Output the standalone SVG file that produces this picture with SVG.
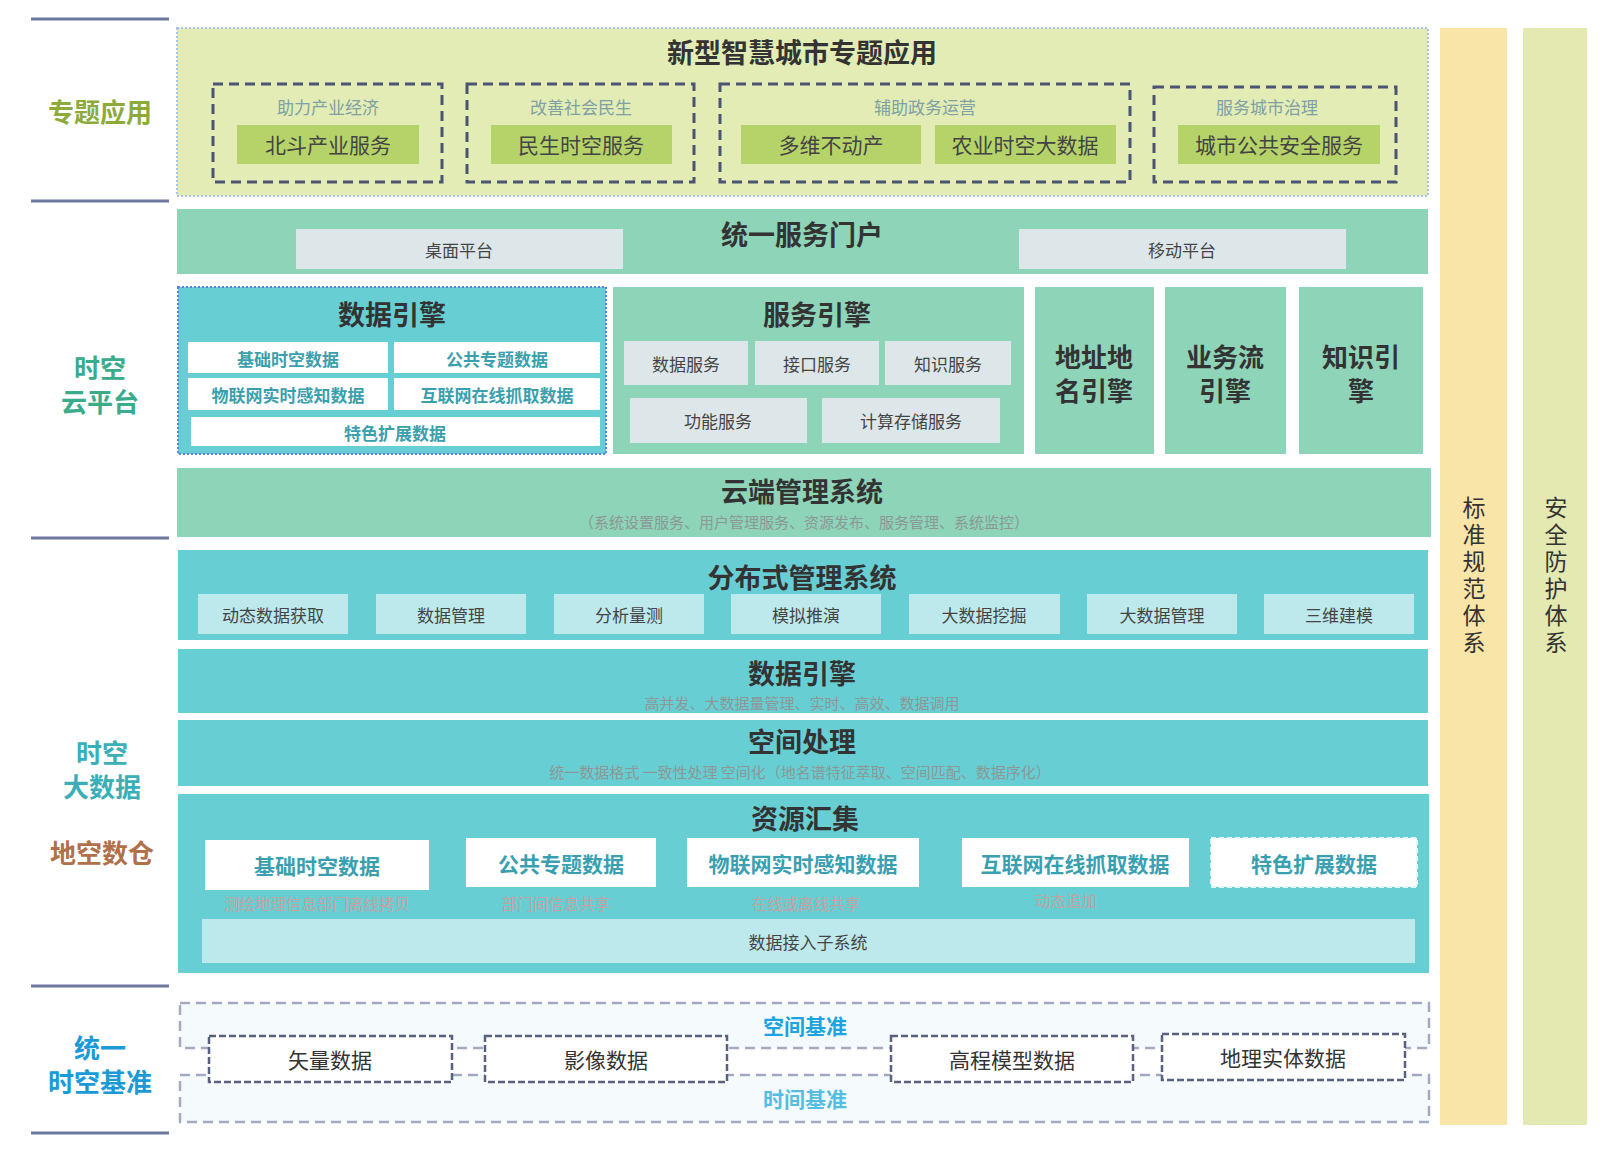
<svg xmlns="http://www.w3.org/2000/svg" width="1616" height="1160" viewBox="0 0 1616 1160">
<style>
text{font-family:"Noto Sans CJK SC","Noto Sans",sans-serif;text-anchor:middle;dominant-baseline:central;fill:#3a3a3a}
.ttl{font-size:27px;font-weight:bold;fill:#333}
.side{font-size:26px;font-weight:bold}
.sep{stroke:#6e77a0;stroke-width:3}
.yg{fill:#e2ecb4}
.mint{fill:#8dd4b9}
.turq{fill:#67cfd4}
.gray{fill:#dde7ea}
.cyan{fill:#bde9ec}
.wbox{fill:#ffffff}
.grp{fill:none;stroke:#4d5372;stroke-width:3;stroke-dasharray:10 6}
.glab{font-size:17px;fill:#7fa0a5}
.ibox{fill:#b6d36a}
.itxt{font-size:21px;fill:#444}
.s16{font-size:17px;fill:#444}
.dtx{font-size:17px;fill:#3aa0ad;font-weight:bold}
.big{font-size:26px;font-weight:bold;fill:#333}
.sub{font-size:15px;fill:#8c9896}
.rtx{font-size:21px;fill:#3a9fb0;font-weight:bold}
.pink{font-size:15.5px;fill:#c4a2a2}
.datum{fill:#ffffff;stroke:#5a6080;stroke-width:2.5;stroke-dasharray:7 3}
.band{fill:#f5fbfd;stroke:#a3aac2;stroke-width:2.5;stroke-dasharray:10 6}
.dtxt{font-size:21px;fill:#333}
.vt{font-size:23px;fill:#333;writing-mode:vertical-rl;letter-spacing:4px}
</style>

<g id="left-labels">
  <line class="sep" x1="31" y1="19" x2="169" y2="19"/>
  <line class="sep" x1="31" y1="201" x2="169" y2="201"/>
  <line class="sep" x1="31" y1="538" x2="169" y2="538"/>
  <line class="sep" x1="31" y1="986" x2="169" y2="986"/>
  <line class="sep" x1="31" y1="1133" x2="169" y2="1133"/>
  <text class="side" x="100" y="110" style="fill:#8cab3a">专题应用</text>
  <text class="side" x="100" y="366" style="fill:#3aac8c">时空<tspan x="100" dy="34">云平台</tspan></text>
  <text class="side" x="102" y="751" style="fill:#3aafb8">时空<tspan x="102" dy="34">大数据</tspan></text>
  <text class="side" x="102" y="851" style="fill:#b0714a">地空数仓</text>
  <text class="side" x="100" y="1046" style="fill:#1a9ad6">统一<tspan x="100" dy="34">时空基准</tspan></text>
</g>

<g id="topic-apps">
  <rect class="yg" x="177" y="28" width="1251" height="168" stroke="#a8c4e8" stroke-width="2" stroke-dasharray="2 2"/>
  <text class="ttl" x="802" y="51">新型智慧城市专题应用</text>
  <g id="grp-economy">
    <rect class="grp" x="213" y="84" width="229" height="98"/>
    <text class="glab" x="328" y="106">助力产业经济</text>
    <rect class="ibox" x="237" y="125" width="182" height="39"/>
    <text class="itxt" x="328" y="144">北斗产业服务</text>
  </g>
  <g id="grp-livelihood">
    <rect class="grp" x="467" y="84" width="227" height="98"/>
    <text class="glab" x="581" y="106">改善社会民生</text>
    <rect class="ibox" x="491" y="125" width="181" height="39"/>
    <text class="itxt" x="581" y="144">民生时空服务</text>
  </g>
  <g id="grp-gov">
    <rect class="grp" x="720" y="84" width="410" height="98"/>
    <text class="glab" x="925" y="106">辅助政务运营</text>
    <rect class="ibox" x="741" y="125" width="180" height="39"/>
    <text class="itxt" x="831" y="144">多维不动产</text>
    <rect class="ibox" x="935" y="125" width="181" height="39"/>
    <text class="itxt" x="1025" y="144">农业时空大数据</text>
  </g>
  <g id="grp-city">
    <rect class="grp" x="1154" y="87" width="242" height="95"/>
    <text class="glab" x="1267" y="106">服务城市治理</text>
    <rect class="ibox" x="1178" y="125" width="202" height="39"/>
    <text class="itxt" x="1279" y="144">城市公共安全服务</text>
  </g>
</g>

<g id="portal">
  <rect class="mint" x="177" y="209" width="1251" height="65"/>
  <text class="ttl" x="802" y="233">统一服务门户</text>
  <rect class="gray" x="296" y="229" width="327" height="40"/>
  <text class="s16" x="459" y="249">桌面平台</text>
  <rect class="gray" x="1019" y="229" width="327" height="40"/>
  <text class="s16" x="1182" y="249">移动平台</text>
</g>

<g id="data-engine-cloud">
  <rect class="turq" x="178" y="287" width="428" height="167" stroke="#5a80e0" stroke-width="2" stroke-dasharray="2 2"/>
  <text class="ttl" x="392" y="313">数据引擎</text>
  <rect class="wbox" x="188" y="342" width="200" height="31"/>
  <text class="dtx" x="288" y="358">基础时空数据</text>
  <rect class="wbox" x="394" y="342" width="206" height="31"/>
  <text class="dtx" x="497" y="358">公共专题数据</text>
  <rect class="wbox" x="188" y="378" width="200" height="32"/>
  <text class="dtx" x="288" y="394">物联网实时感知数据</text>
  <rect class="wbox" x="394" y="378" width="206" height="32"/>
  <text class="dtx" x="497" y="394">互联网在线抓取数据</text>
  <rect class="wbox" x="191" y="417" width="409" height="29"/>
  <text class="dtx" x="395" y="432">特色扩展数据</text>
</g>

<g id="service-engine">
  <rect class="mint" x="613" y="287" width="411" height="167"/>
  <text class="ttl" x="817" y="313">服务引擎</text>
  <rect class="gray" x="624" y="341" width="124" height="44"/>
  <text class="s16" x="686" y="363">数据服务</text>
  <rect class="gray" x="755" y="341" width="124" height="44"/>
  <text class="s16" x="817" y="363">接口服务</text>
  <rect class="gray" x="885" y="341" width="126" height="44"/>
  <text class="s16" x="948" y="363">知识服务</text>
  <rect class="gray" x="630" y="398" width="177" height="45"/>
  <text class="s16" x="718" y="420">功能服务</text>
  <rect class="gray" x="822" y="398" width="178" height="45"/>
  <text class="s16" x="911" y="420">计算存储服务</text>
</g>

<g id="address-engine">
  <rect class="mint" x="1035" y="287" width="119" height="167"/>
  <text class="big" x="1094" y="355">地址地<tspan x="1094" dy="34">名引擎</tspan></text>
</g>
<g id="workflow-engine">
  <rect class="mint" x="1165" y="287" width="121" height="167"/>
  <text class="big" x="1225" y="355">业务流<tspan x="1225" dy="34">引擎</tspan></text>
</g>
<g id="knowledge-engine">
  <rect class="mint" x="1299" y="287" width="124" height="167"/>
  <text class="big" x="1361" y="355">知识引<tspan x="1361" dy="34">擎</tspan></text>
</g>

<g id="cloud-mgmt">
  <rect class="mint" x="177" y="468" width="1254" height="69"/>
  <text class="ttl" x="802" y="490">云端管理系统</text>
  <text class="sub" x="804" y="521">（系统设置服务、用户管理服务、资源发布、服务管理、系统监控）</text>
</g>

<g id="distributed-mgmt">
  <rect class="turq" x="178" y="550" width="1250" height="90"/>
  <text class="ttl" x="802" y="576">分布式管理系统</text>
  <rect class="cyan" x="198" y="594" width="150" height="40"/>
  <text class="s16" x="273" y="614">动态数据获取</text>
  <rect class="cyan" x="376" y="594" width="150" height="40"/>
  <text class="s16" x="451" y="614">数据管理</text>
  <rect class="cyan" x="554" y="594" width="150" height="40"/>
  <text class="s16" x="629" y="614">分析量测</text>
  <rect class="cyan" x="731" y="594" width="150" height="40"/>
  <text class="s16" x="806" y="614">模拟推演</text>
  <rect class="cyan" x="909" y="594" width="151" height="40"/>
  <text class="s16" x="984" y="614">大数据挖掘</text>
  <rect class="cyan" x="1087" y="594" width="150" height="40"/>
  <text class="s16" x="1162" y="614">大数据管理</text>
  <rect class="cyan" x="1264" y="594" width="150" height="40"/>
  <text class="s16" x="1339" y="614">三维建模</text>
</g>

<g id="data-engine-bd">
  <rect class="turq" x="178" y="649" width="1250" height="64"/>
  <text class="ttl" x="802" y="672">数据引擎</text>
  <text class="sub" x="802" y="702">高并发、大数据量管理、实时、高效、数据调用</text>
</g>

<g id="spatial-proc">
  <rect class="turq" x="178" y="720" width="1250" height="66"/>
  <text class="ttl" x="802" y="740">空间处理</text>
  <text class="sub" x="800" y="771">统一数据格式 一致性处理 空间化（地名谱特征萃取、空间匹配、数据序化）</text>
</g>

<g id="resource-collect">
  <rect class="turq" x="178" y="794" width="1251" height="179"/>
  <text class="ttl" x="805" y="817">资源汇集</text>
  <rect class="wbox" x="205" y="840" width="224" height="50"/>
  <text class="rtx" x="317" y="865">基础时空数据</text>
  <rect class="wbox" x="466" y="838" width="190" height="49"/>
  <text class="rtx" x="561" y="863">公共专题数据</text>
  <rect class="wbox" x="687" y="838" width="232" height="49"/>
  <text class="rtx" x="803" y="863">物联网实时感知数据</text>
  <rect class="wbox" x="962" y="838" width="227" height="49"/>
  <text class="rtx" x="1075" y="863">互联网在线抓取数据</text>
  <rect class="wbox" x="1211" y="838" width="206" height="49" stroke="#e8f6f7" stroke-width="2" stroke-dasharray="5 3"/>
  <text class="rtx" x="1314" y="863">特色扩展数据</text>
  <text class="pink" x="317" y="903">测绘地理信息部门离线拷贝</text>
  <text class="pink" x="556" y="903">部门间信息共享</text>
  <text class="pink" x="806" y="903">在线或离线共享</text>
  <text class="pink" x="1066" y="900">动态追加</text>
  <rect class="cyan" x="202" y="919" width="1213" height="44"/>
  <text x="808" y="941" style="font-size:17px;fill:#444">数据接入子系统</text>
</g>

<g id="datum">
  <rect class="band" x="180" y="1003" width="1249" height="45"/>
  <rect class="band" x="180" y="1075" width="1249" height="47"/>
  <text x="805" y="1025" style="font-size:21px;fill:#1ba3e2;font-weight:bold">空间基准</text>
  <text x="805" y="1098" style="font-size:21px;fill:#55bde2;font-weight:bold">时间基准</text>
  <g id="vector-data">
    <rect class="datum" x="209" y="1036" width="243" height="46"/>
    <text class="dtxt" x="330" y="1059">矢量数据</text>
  </g>
  <g id="image-data">
    <rect class="datum" x="485" y="1036" width="242" height="46"/>
    <text class="dtxt" x="606" y="1059">影像数据</text>
  </g>
  <g id="dem-data">
    <rect class="datum" x="891" y="1036" width="242" height="46"/>
    <text class="dtxt" x="1012" y="1059">高程模型数据</text>
  </g>
  <g id="entity-data">
    <rect class="datum" x="1162" y="1034" width="243" height="46"/>
    <text class="dtxt" x="1283" y="1057">地理实体数据</text>
  </g>
</g>

<g id="standards">
  <rect x="1440" y="28" width="67" height="1097" fill="#fae5a9"/>
  <text class="vt" x="1474" y="577">标准规范体系</text>
</g>
<g id="security">
  <rect x="1523" y="28" width="64" height="1097" fill="#e3e9b1"/>
  <text class="vt" x="1556" y="577">安全防护体系</text>
</g>

<g id="connectors"></g>
</svg>
